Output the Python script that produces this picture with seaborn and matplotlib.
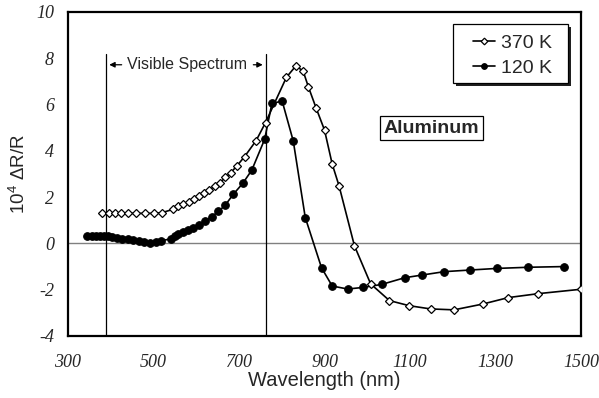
import numpy as np
import pandas as pd
import matplotlib
matplotlib.use("Agg")
import matplotlib.pyplot as plt
from matplotlib.patches import Rectangle
import seaborn as sns

# ---- data ----
wl_370 = [380, 395, 410, 425, 440, 460, 480, 500, 520, 545, 558, 570, 582, 594, 606,
          618, 630, 643, 656, 668, 681, 695, 713, 740, 762, 811, 833, 850, 862, 880,
          900, 918, 934, 970, 1008, 1052, 1098, 1148, 1203, 1270, 1330, 1400, 1500]
dr_370 = [1.30, 1.30, 1.30, 1.30, 1.30, 1.30, 1.30, 1.30, 1.33, 1.47, 1.60, 1.70, 1.80, 1.92, 2.05,
          2.17, 2.31, 2.47, 2.63, 2.85, 3.06, 3.35, 3.75, 4.44, 5.22, 7.18, 7.67, 7.45, 6.78, 5.87,
          4.90, 3.43, 2.49, -0.10, -1.75, -2.47, -2.69, -2.83, -2.87, -2.62, -2.34, -2.17, -1.98]

wl_120 = [345, 355, 365, 375, 385, 394, 404, 415, 427, 440, 452, 465, 478, 492, 505, 518,
          542, 550, 558, 568, 580, 592, 607, 621, 636, 652, 668, 687, 709, 730, 760, 777,
          801, 827, 855, 893, 918, 954, 991, 1034, 1088, 1127, 1180, 1240, 1303, 1377, 1460]
dr_120 = [0.32, 0.32, 0.32, 0.32, 0.32, 0.31, 0.29, 0.25, 0.21, 0.17, 0.13, 0.09, 0.05, 0.03, 0.05, 0.12,
          0.20, 0.30, 0.40, 0.48, 0.56, 0.66, 0.78, 0.95, 1.16, 1.38, 1.66, 2.13, 2.60, 3.17, 4.50, 6.05,
          6.15, 4.42, 1.12, -1.05, -1.84, -1.97, -1.90, -1.77, -1.48, -1.37, -1.22, -1.15, -1.08, -1.03, -1.00]

series_names = ["370 K", "120 K"]
x_ticks = [300, 500, 700, 900, 1100, 1300, 1500]
y_ticks = [-4, -2, 0, 2, 4, 6, 8, 10]
visible_edges = [390, 762]

df370 = pd.DataFrame({"wl": wl_370, "dr": dr_370})
df120 = pd.DataFrame({"wl": wl_120, "dr": dr_120})

sns.set_style("white")
plt.rcParams["font.family"] = ["Liberation Sans", "DejaVu Sans"]
plt.rcParams["mathtext.fontset"] = "custom"
plt.rcParams["mathtext.rm"] = "Liberation Sans"
plt.rcParams["mathtext.it"] = "Liberation Sans:italic"

fig = plt.figure(figsize=(5.99, 3.98), dpi=100)
ax = fig.add_axes([68 / 599, 1 - 336 / 398, (581 - 68) / 599, (336 - 12) / 398])

ax.axhline(0, color="#808080", lw=1.0, zorder=1)
for v in visible_edges:
    ax.plot([v, v], [-4, 8.2], color="black", lw=0.9, zorder=1)

sns.lineplot(data=df120, x="wl", y="dr", ax=ax, color="black", lw=1.2,
             marker="o", markersize=5.5, markerfacecolor="black",
             markeredgecolor="black", label=series_names[1], zorder=3)
sns.lineplot(data=df370, x="wl", y="dr", ax=ax, color="black", lw=1.2,
             marker="D", markersize=4.5, markerfacecolor="white",
             markeredgecolor="black", markeredgewidth=0.9,
             label=series_names[0], zorder=4)

ax.set_xlim(300, 1500)
ax.set_ylim(-4, 10)
ax.set_xticks(x_ticks)
ax.set_yticks(y_ticks)
ax.set_xticklabels([str(t) for t in x_ticks], family="Liberation Serif",
                   style="italic", fontsize=13)
ax.set_yticklabels([str(t) for t in y_ticks], family="Liberation Serif",
                   style="italic", fontsize=13)
ax.tick_params(axis="both", direction="in", length=4, width=1, color="black")
ax.tick_params(axis="x", pad=13)
ax.tick_params(axis="y", pad=10)
for s in ax.spines.values():
    s.set_visible(True)
    s.set_color("black")
    s.set_linewidth(1.6)

ax.set_xlabel("Wavelength (nm)", fontsize=14.5, labelpad=0)
ax.set_ylabel(r"10$^{4}$ $\Delta$R/R", fontsize=13.5, labelpad=5)

# Visible spectrum annotation
ax.text(579, 7.72, "Visible Spectrum", ha="center", va="center", fontsize=11.5)
ax.annotate("", xy=(visible_edges[0], 7.72), xytext=(432, 7.72),
            arrowprops=dict(arrowstyle="-|>", color="black", lw=0.9, mutation_scale=8))
ax.annotate("", xy=(visible_edges[1], 7.72), xytext=(727, 7.72),
            arrowprops=dict(arrowstyle="-|>", color="black", lw=0.9, mutation_scale=8))

ax.text(1150, 4.97, "Aluminum", ha="center", va="center", fontsize=14,
        fontweight="bold",
        bbox=dict(boxstyle="square,pad=0.18", facecolor="white", edgecolor="black", lw=0.9))

# legend frame with shadow (drawn as patches in axes fraction)
lx0, lx1 = (453 - 68) / 513, (568 - 68) / 513
ly0, ly1 = (336 - 83) / 324, (336 - 24) / 324
ax.add_patch(Rectangle((lx0 + 3 / 513, ly0 - 3 / 324), lx1 - lx0, ly1 - ly0,
                       transform=ax.transAxes, facecolor="#202020", edgecolor="none",
                       zorder=8, clip_on=False))
ax.add_patch(Rectangle((lx0, ly0), lx1 - lx0, ly1 - ly0, transform=ax.transAxes,
                       facecolor="white", edgecolor="black", lw=0.9, zorder=9, clip_on=False))

handles, labels = ax.get_legend_handles_labels()
order = [labels.index(n) for n in series_names]
leg = ax.legend([handles[i] for i in order], [labels[i] for i in order],
                loc="upper left", bbox_to_anchor=((473 - 68) / 513, (336 - 34) / 324),
                fontsize=14, frameon=False, borderpad=0, borderaxespad=0,
                handlelength=1.15, handletextpad=0.3, labelspacing=0.38,
                markerscale=0.75)
leg.set_zorder(10)

fig.savefig("out.png", dpi=100)
